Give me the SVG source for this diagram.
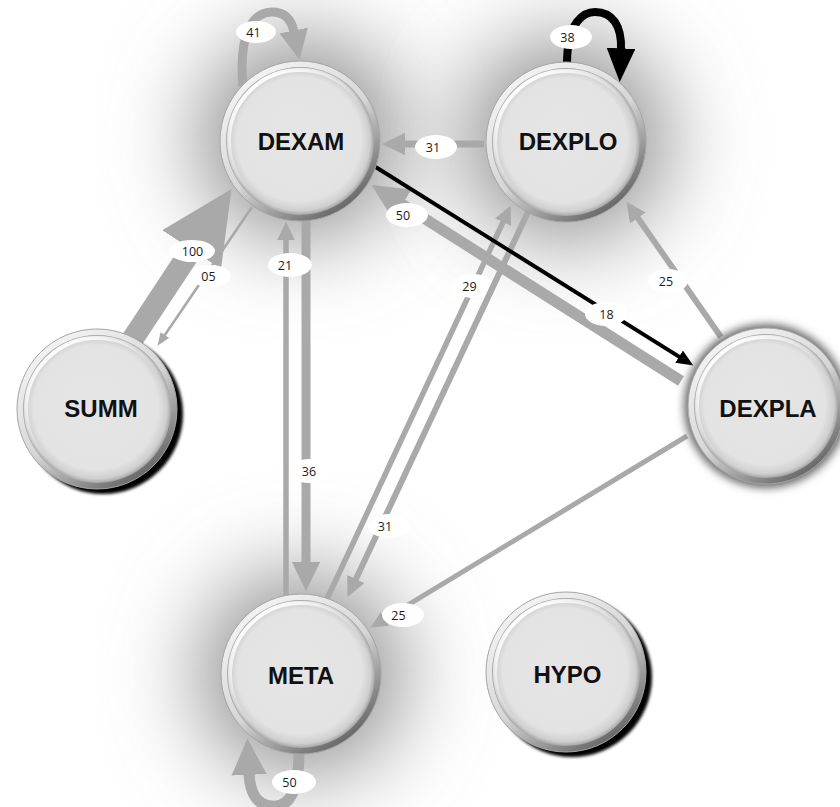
<svg xmlns="http://www.w3.org/2000/svg" width="840" height="807" viewBox="0 0 840 807">
  <style>
    .edge { fill: none; stroke: #a9a9a9; }
    .edge.dark { stroke: #000; }
    .lbl ellipse { fill: #fff; }
    .lbl text { font-family: "Open Sans", "Liberation Sans", sans-serif; font-size: 12.5px; fill: #1a1a1a; text-anchor: middle; }
    .halo { fill: #8a8a8a; filter: url(#halo); }
    .rim { fill: url(#rim); stroke: #a4a4a4; stroke-width: 1; }
    .face { fill: url(#face); }
    .gloss { fill: none; stroke: url(#gloss); stroke-width: 4; }
    .node text { font-family: "Liberation Sans", Arial, sans-serif; font-weight: bold; font-size: 24px; fill: #111; text-anchor: middle; }
  </style>
  <defs>
    <linearGradient id="rim" x1="0.2" y1="0.1" x2="0.8" y2="0.95">
      <stop offset="0" stop-color="#f2f2f2"/>
      <stop offset="0.5" stop-color="#d6d6d6"/>
      <stop offset="1" stop-color="#606060"/>
    </linearGradient>
    <radialGradient id="face" cx="0.5" cy="0.5" r="0.5" fx="0.45" fy="0.42">
      <stop offset="0" stop-color="#e5e5e5"/>
      <stop offset="0.84" stop-color="#e3e3e3"/>
      <stop offset="0.95" stop-color="#cfcfcf"/>
      <stop offset="1" stop-color="#a5a5a5"/>
    </radialGradient>
    <linearGradient id="gloss" x1="0.2" y1="0.1" x2="0.55" y2="0.55">
      <stop offset="0" stop-color="#fff" stop-opacity="0.95"/>
      <stop offset="1" stop-color="#fff" stop-opacity="0"/>
    </linearGradient>
    <filter id="halo" x="-1.5" y="-1.5" width="4" height="4">
      <feGaussianBlur stdDeviation="46"/>
    </filter>
    <filter id="glow" x="-0.2" y="-0.2" width="1.4" height="1.4">
      <feGaussianBlur stdDeviation="4"/>
    </filter>
    <filter id="drop" x="-0.2" y="-0.2" width="1.4" height="1.4">
      <feGaussianBlur stdDeviation="1.5"/>
    </filter>
    <marker id="ah" viewBox="0 0 10 10" refX="0.5" refY="5" markerUnits="strokeWidth" markerWidth="3.3" markerHeight="3.2" orient="auto" preserveAspectRatio="none">
      <path d="M0,0 L10,5 L0,10 z" fill="#a9a9a9"/>
    </marker>
    <marker id="ahThin" viewBox="0 0 10 10" refX="0.5" refY="5" markerUnits="strokeWidth" markerWidth="5" markerHeight="4" orient="auto" preserveAspectRatio="none">
      <path d="M0,0 L10,5 L0,10 z" fill="#a9a9a9"/>
    </marker>
    <marker id="ahBlack" viewBox="0 0 10 10" refX="0.5" refY="5" markerUnits="strokeWidth" markerWidth="4.2" markerHeight="3.6" orient="auto" preserveAspectRatio="none">
      <path d="M0,0 L10,5 L0,10 z" fill="#000"/>
    </marker>
  </defs>

  <rect width="840" height="807" fill="#fff"/>

  <!-- soft halos behind the busiest states -->
  <g id="halos">
    <circle class="halo" cx="300" cy="138" r="100"/>
    <circle class="halo" cx="566" cy="140" r="100"/>
    <circle class="halo" cx="301" cy="674" r="100"/>
  </g>

  <!-- transitions, drawn in order with their counts -->
  <g id="connectors">
    <g>
      <path class="edge" stroke-width="22" marker-end="url(#ah)" d="M130,343 L193.6,246.6"/>
      <g class="lbl"><ellipse cx="192" cy="251" rx="23" ry="11"/><text x="192.5" y="255.5">100</text></g>
    </g>
    <g>
      <path class="edge" stroke-width="2.6" marker-end="url(#ahThin)" d="M252,207 L164.5,335.5"/>
      <g class="lbl"><ellipse cx="210" cy="276" rx="21" ry="11"/><text x="208.5" y="280.5">05</text></g>
    </g>
    <g>
      <path class="edge" stroke-width="9" marker-end="url(#ah)" d="M243,86 C238,30 255,12 272,12 C287,12 292,22 294,32"/>
      <g class="lbl"><ellipse cx="256" cy="32" rx="20" ry="11"/><text x="253.5" y="36.5">41</text></g>
    </g>
    <g>
      <path class="edge dark" stroke-width="8" marker-end="url(#ahBlack)" d="M567,64 C567,20 585,12 595,12 C612,12 622,25 621,50"/>
      <g class="lbl"><ellipse cx="571" cy="37" rx="21" ry="12"/><text x="567.5" y="41.5">38</text></g>
    </g>
    <g>
      <path class="edge" stroke-width="7" marker-end="url(#ah)" d="M484,144 L404,144"/>
      <g class="lbl"><ellipse cx="436" cy="147" rx="21" ry="12"/><text x="433" y="151.5">31</text></g>
    </g>
    <g>
      <path class="edge" stroke-width="11" marker-end="url(#ah)" d="M681,381 L400.7,203.4"/>
      <g class="lbl"><ellipse cx="407" cy="215" rx="21" ry="12"/><text x="403" y="219.5">50</text></g>
    </g>
    <g>
      <path class="edge" stroke-width="9" marker-end="url(#ah)" d="M306,219 L306,563"/>
      <g class="lbl"><ellipse cx="309" cy="471" rx="21" ry="12"/><text x="309" y="475.5">36</text></g>
    </g>
    <g>
      <path class="edge" stroke-width="5.5" marker-end="url(#ah)" d="M286,598 L286,239"/>
      <g class="lbl"><ellipse cx="290" cy="265" rx="22" ry="12"/><text x="285" y="269.5">21</text></g>
    </g>
    <g>
      <path class="edge" stroke-width="5.5" marker-end="url(#ah)" d="M327,599 L503.4,221.3"/>
      <g class="lbl"><ellipse cx="473" cy="286" rx="21" ry="12"/><text x="469.5" y="290.5">29</text></g>
    </g>
    <g>
      <path class="edge" stroke-width="6" marker-end="url(#ah)" d="M528,212 L355.5,579.9"/>
      <g class="lbl"><ellipse cx="389" cy="526" rx="21" ry="12"/><text x="385" y="530.5">31</text></g>
    </g>
    <g>
      <path class="edge" stroke-width="6" marker-end="url(#ah)" d="M721,337 L637.3,217.2"/>
      <g class="lbl"><ellipse cx="668" cy="281" rx="20" ry="12"/><text x="666" y="285.5">25</text></g>
    </g>
    <g>
      <path class="edge" stroke-width="5" marker-end="url(#ah)" d="M687,436 L384.1,619.4"/>
      <g class="lbl"><ellipse cx="403" cy="615" rx="21" ry="12"/><text x="398.5" y="619.5">25</text></g>
    </g>
    <g>
      <path class="edge dark" stroke-width="4" marker-end="url(#ahBlack)" d="M374,166 L679.8,357.1"/>
      <g class="lbl"><ellipse cx="606" cy="314" rx="21" ry="12"/><text x="606.5" y="318.5">18</text></g>
    </g>
    <g>
      <path class="edge" stroke-width="11" marker-end="url(#ah)" d="M299,752 C299,790 290,808 272,806 C258,805 250,795 249,773"/>
      <g class="lbl"><ellipse cx="294" cy="782" rx="22" ry="12"/><text x="289.5" y="786.5">50</text></g>
    </g>
  </g>

  <!-- states -->
  <g id="DEXAM" class="node">
    <circle class="rim" cx="300" cy="141" r="80"/>
    <circle class="face" cx="300" cy="141" r="74"/>
    <circle class="gloss" cx="300" cy="141" r="71"/>
    <text x="301" y="150">DEXAM</text>
  </g>
  <g id="DEXPLO" class="node">
    <circle class="rim" cx="566" cy="142" r="80"/>
    <circle class="face" cx="566" cy="142" r="74"/>
    <circle class="gloss" cx="566" cy="142" r="71"/>
    <text x="568" y="150">DEXPLO</text>
  </g>
  <g id="SUMM" class="node">
    <circle cx="103" cy="414" r="80" fill="#000" filter="url(#drop)"/>
    <circle class="rim" cx="97" cy="409" r="80"/>
    <circle class="face" cx="97" cy="409" r="74"/>
    <circle class="gloss" cx="97" cy="409" r="71"/>
    <text x="101" y="417">SUMM</text>
  </g>
  <g id="DEXPLA" class="node">
    <circle cx="766" cy="406" r="82" fill="#6a6a6a" filter="url(#glow)"/>
    <circle class="rim" cx="766" cy="406" r="78"/>
    <circle class="face" cx="766" cy="406" r="72"/>
    <circle class="gloss" cx="766" cy="406" r="69"/>
    <text x="768" y="417">DEXPLA</text>
  </g>
  <g id="META" class="node">
    <circle class="rim" cx="301" cy="674" r="80"/>
    <circle class="face" cx="301" cy="674" r="74"/>
    <circle class="gloss" cx="301" cy="674" r="71"/>
    <text x="301" y="684">META</text>
  </g>
  <g id="HYPO" class="node">
    <circle cx="572" cy="677" r="80" fill="#000" filter="url(#drop)"/>
    <circle class="rim" cx="566" cy="672" r="80"/>
    <circle class="face" cx="566" cy="672" r="74"/>
    <circle class="gloss" cx="566" cy="672" r="71"/>
    <text x="567.5" y="683">HYPO</text>
  </g>
</svg>
